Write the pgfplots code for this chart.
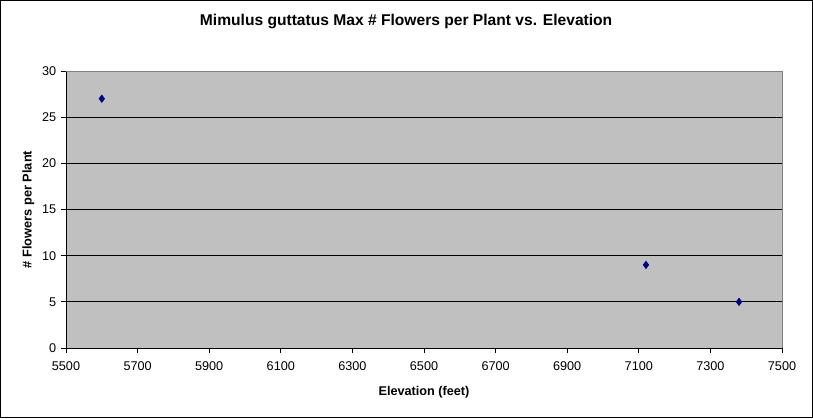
\documentclass[border=0pt]{standalone}
\usepackage{fontspec}
\setmainfont{Liberation Sans}
\usepackage{pgfplots}
\pgfplotsset{compat=1.18}
\definecolor{plotbg}{HTML}{C0C0C0}
\definecolor{navy}{HTML}{000080}
\definecolor{frame}{HTML}{808080}
\begin{document}
\begin{tikzpicture}
\useasboundingbox (0,0) rectangle (609.75pt,313.5pt);
\draw[black,line width=0.75pt] (0.375pt,0.375pt) rectangle (609.375pt,313.125pt);
\begin{axis}[
  at={(49.5pt,52.5pt)}, anchor=south west,
  scale only axis, width=537pt, height=207.75pt,
  xmin=5500, xmax=7500, ymin=0, ymax=30,
  xtick={5500,5700,...,7500}, ytick={0,5,...,30},
  axis x line*=bottom, axis y line*=left,
  axis line style={black,line width=0.75pt,-},
  axis background/.style={fill=plotbg},
  ymajorgrids, grid style={black,line width=0.75pt},
  tick align=outside, major tick length=3.75pt,
  tick style={black,line width=0.75pt},
  /pgf/number format/assume math mode=true,
  /pgf/number format/set thousands separator={},
  tick label style={font=\fontsize{9.5}{11}\selectfont},
  xticklabel style={yshift=-3pt},
  title={Mimulus guttatus Max \# Flowers per Plant vs. Elevation},
  title style={at={(axis description cs:0.475,1.136)}, anchor=base, font=\bfseries\fontsize{11.7}{14}\selectfont},
  xlabel={Elevation (feet)},
  xlabel style={at={(axis description cs:0.5,-0.17)}, anchor=base, font=\bfseries\fontsize{9.5}{11}\selectfont},
  ylabel={\# Flowers per Plant},
  ylabel style={at={(axis description cs:-0.048,0.5)}, rotate=0, anchor=base, font=\bfseries\fontsize{9.6}{11}\selectfont},
  clip=false,
]
\draw[frame,line width=0.75pt] (rel axis cs:0,1) -- (rel axis cs:1,1) -- (rel axis cs:1,0);
\addplot[only marks, mark=diamond*, mark size=2.8pt, mark options={fill=navy,draw=navy}] coordinates {
  (5600,27) (7120,9) (7380,5)
};
\end{axis}
\end{tikzpicture}
\end{document}
